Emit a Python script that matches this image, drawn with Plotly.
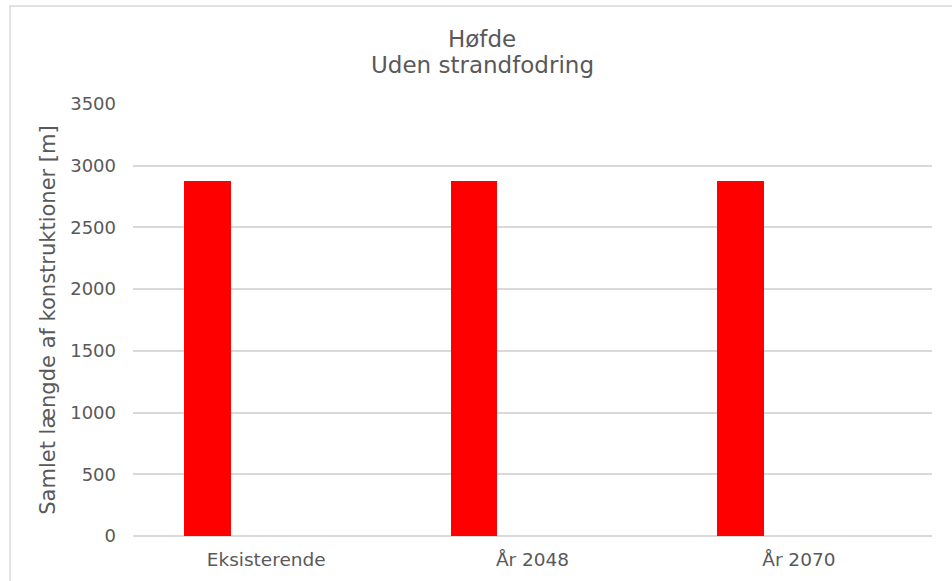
import plotly.graph_objects as go

# Data
categories = ["Eksisterende", "År 2048", "År 2070"]
hoefde_laengde = [2880, 2880, 2880]
y_ticks = [0, 500, 1000, 1500, 2000, 2500, 3000, 3500]
title_lines = ["Høfde", "Uden strandfodring"]

FONT = "DejaVu Sans, Verdana, sans-serif"
GREY_TXT = "#595959"
GRID = "#d9d9d9"

W, H = 952, 581
L, R, T, B = 133, 20, 104, 45
plot_w = W - L - R
plot_h = H - T - B


def py(px_from_top):
    """Convert a pixel row to paper y."""
    return (H - B - px_from_top) / plot_h


fig = go.Figure()
fig.add_trace(go.Bar(
    x=categories,
    y=hoefde_laengde,
    marker=dict(color="#ff0000", line=dict(width=0)),
    width=0.175,
    offset=-0.3075,
    showlegend=False,
))

# chart-area frame (left and top edges visible)
fig.add_shape(
    type="rect", xref="paper", yref="paper",
    x0=(10 - L) / plot_w, x1=1.2,
    y0=-0.3, y1=py(6),
    line=dict(color=GRID, width=1.5), fillcolor="rgba(0,0,0,0)",
    layer="below",
)

# two-line chart title
for text, row in zip(title_lines, [39, 65]):
    fig.add_annotation(
        text=text, xref="paper", yref="paper",
        x=(482 - L) / plot_w, y=py(row),
        xanchor="center", yanchor="middle", showarrow=False,
        font=dict(family=FONT, size=23, color=GREY_TXT),
    )

fig.update_layout(
    width=W, height=H,
    margin=dict(l=L, r=R, t=T, b=B, pad=0),
    paper_bgcolor="white", plot_bgcolor="white",
    font=dict(family=FONT, color=GREY_TXT, size=18),
    xaxis=dict(
        type="category",
        showgrid=False, showline=False, zeroline=False,
        ticks="", ticklabelstandoff=10,
        tickfont=dict(size=18.5, color=GREY_TXT),
    ),
    yaxis=dict(
        range=[0, 3500],
        tickvals=y_ticks,
        showgrid=True, gridcolor=GRID, gridwidth=1.5,
        zeroline=True, zerolinecolor=GRID, zerolinewidth=1.5,
        showline=False, ticks="", ticklabelstandoff=16,
        tickfont=dict(size=18, color=GREY_TXT),
        title=dict(text="Samlet længde af konstruktioner [m]",
                   font=dict(size=21, color=GREY_TXT), standoff=8),
    ),
    bargap=0,
)

fig.write_html("out.html")
